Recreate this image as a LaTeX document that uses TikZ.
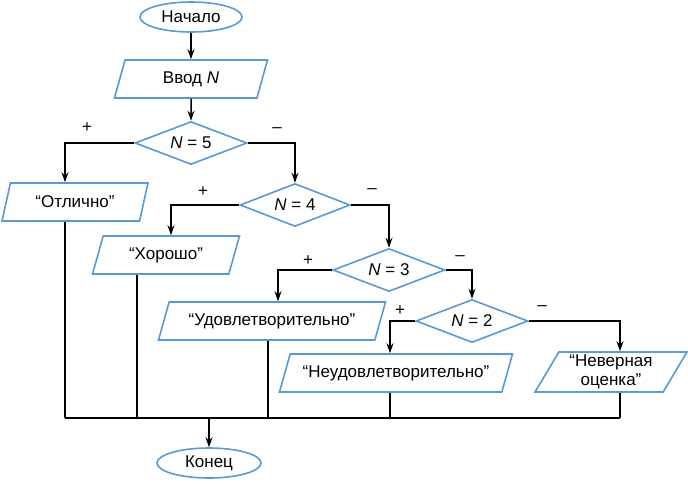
\documentclass[tikz,border=0pt]{standalone}
\usepackage{fontspec}
\setmainfont{Liberation Sans}
\usetikzlibrary{shapes.geometric, arrows.meta, positioning}
\definecolor{blockblue}{RGB}{92,152,210}

\begin{document}
\begin{tikzpicture}[x=1pt, y=-1pt, line width=1.5pt, >={Stealth[length=10pt,width=7pt]},
  font=\fontsize{17}{19}\selectfont,
  term/.style={ellipse, draw=blockblue, line width=1.6pt, inner sep=0pt,
    minimum width=102pt, minimum height=30pt},
  io/.style={trapezium, trapezium left angle=55, trapezium right angle=125,
    trapezium stretches body, draw=blockblue, line width=1.6pt, inner sep=0pt,
    minimum height=38pt, align=center},
  cond/.style={diamond, aspect=2.6, draw=blockblue, line width=1.6pt, inner sep=0pt,
    minimum width=112pt, minimum height=43pt},
  sign/.style={inner sep=0pt}]
\useasboundingbox (0,0) rectangle (688,483);
\node[term] (start) at (191,17) {Начало};
\node[io, minimum width=153pt] (inp) at (191,79) {Ввод {\itshape N}};
\node[cond] (d5) at (191,143) {{\itshape N} = 5};
\node[io, minimum width=146pt] (otl) at (75,202) {“Отлично”};
\node[cond, minimum width=110pt] (d4) at (295,205) {{\itshape N} = 4};
\node[io, minimum width=147pt] (xor) at (166,255) {“Хорошо”};
\node[cond] (d3) at (389,270) {{\itshape N} = 3};
\node[io, minimum width=227pt] (udo) at (272,321) {“Удовлетворительно”};
\node[cond] (d2) at (472,321) {{\itshape N} = 2};
\node[io, minimum width=233pt] (neu) at (396,373) {“Неудовлетворительно”};
\node[io, minimum width=152pt, minimum height=40pt] (nev) at (611,372) {“Неверная\\оценка”};
\node[term, minimum width=104pt] (end) at (209,463) {Конец};

\node[sign] (p5) at (87,128) {+};
\node[sign] (m5) at (277,130) {–};
\node[sign] (p4) at (203,192) {+};
\node[sign] (m4) at (372,191) {–};
\node[sign] (p3) at (308,261) {+};
\node[sign] (m3) at (460,258) {–};
\node[sign] (p2) at (400,311) {+};
\node[sign] (m2) at (542,308) {–};

\coordinate (b5p) at (65,143);
\coordinate (b5m) at (295,143);
\coordinate (b4p) at (171,205);
\coordinate (b4m) at (389,205);
\coordinate (b3p) at (278,270);
\coordinate (b3m) at (472,270);
\coordinate (b2p) at (390,321);
\coordinate (b2m) at (620,321);
\coordinate (o1) at (65,418);
\coordinate (o2) at (137,418);
\coordinate (o3) at (268,418);
\coordinate (o4) at (390,418);
\coordinate (o5) at (620,418);
\coordinate (oc) at (209,418);

\draw[->](start)--(inp);
\draw[->](inp)--(d5);
\draw[->](d5.west)--(b5p)--(b5p |- otl.north);
\draw[->](d5.east)--(b5m)--(d4.north);
\draw[->](d4.west)--(b4p)--(b4p |- xor.north);
\draw[->](d4.east)--(b4m)--(d3.north);
\draw[->](d3.west)--(b3p)--(b3p |- udo.north);
\draw[->](d3.east)--(b3m)--(d2.north);
\draw[->](d2.west)--(b2p)--(b2p |- neu.north);
\draw[->](d2.east)--(b2m)--(b2m |- nev.north);
\draw(o1 |- otl.south)--(o1);
\draw(o2 |- xor.south)--(o2);
\draw(o3 |- udo.south)--(o3);
\draw(o4 |- neu.south)--(o4);
\draw(o5 |- nev.south)--(o5);
\draw(o1)--(o5);
\draw[->](oc)--(end);
\end{tikzpicture}
\end{document}
